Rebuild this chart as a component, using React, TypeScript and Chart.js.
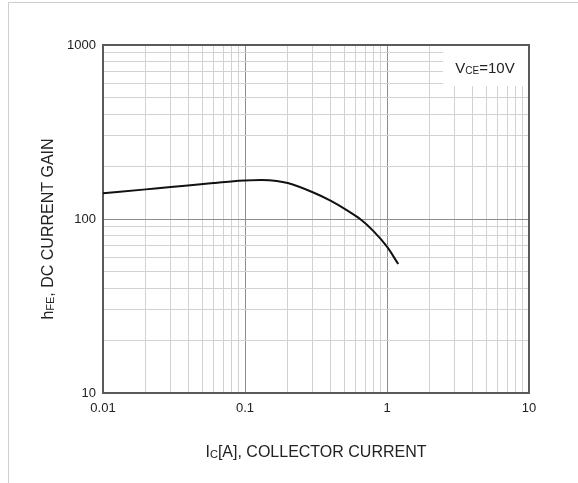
import React, { useEffect, useRef } from 'react';
import { Chart, registerables } from 'chart.js';

Chart.register(...registerables);

// ---- data ----
const currentA = [0.01, 0.02, 0.03, 0.043, 0.06, 0.08, 0.1, 0.13, 0.167, 0.2, 0.3, 0.4, 0.52, 0.65, 0.8, 1.0, 1.2];
const gainHFE = [140.5, 148, 152.5, 157, 161, 164.3, 166.2, 167.3, 165.5, 161, 142.5, 127.5, 112.5, 99.6, 85.5, 69.3, 55.1];
const xDecades = [0.01, 0.1, 1, 10];
const xTickLabels = ['0.01', '0.1', '1', '10'];
const yDecades = [10, 100, 1000];
const yTickLabels = ['10', '100', '1000'];
const minorMultipliers = [1, 2, 3, 4, 5, 6, 7, 8, 9];

const FONT = '"Liberation Sans", Arial, Helvetica, sans-serif';
const TEXT = '#222222';

function gridValues(decades: number[]): number[] {
  const out: number[] = [];
  for (let i = 0; i < decades.length - 1; i++) {
    for (const m of minorMultipliers) out.push(parseFloat((decades[i] * m).toPrecision(6)));
  }
  out.push(decades[decades.length - 1]);
  return out;
}

function labelFor(v: number, decades: number[], labels: string[]): string {
  for (let i = 0; i < decades.length; i++) {
    if (Math.abs(v - decades[i]) / decades[i] < 1e-6) return labels[i];
  }
  return '';
}

function isDecade(v: number): boolean {
  const l = Math.log10(v);
  return Math.abs(l - Math.round(l)) < 1e-6;
}

type Part = { text: string; sub?: boolean };

function drawRich(ctx: CanvasRenderingContext2D, parts: Part[], cx: number, cy: number, size: number) {
  const subSize = Math.round(size * 0.66);
  let total = 0;
  const widths = parts.map((p) => {
    ctx.font = `${p.sub ? subSize : size}px ${FONT}`;
    const w = ctx.measureText(p.text).width;
    total += w;
    return w;
  });
  let x = cx - total / 2;
  const base = cy + size * 0.36;
  ctx.textAlign = 'left';
  ctx.textBaseline = 'alphabetic';
  ctx.fillStyle = TEXT;
  parts.forEach((p, i) => {
    ctx.font = `${p.sub ? subSize : size}px ${FONT}`;
    ctx.fillText(p.text, x, p.sub ? base + size * 0.1 : base);
    x += widths[i];
  });
}

const xTitle: Part[] = [
  { text: 'I' }, { text: 'C', sub: true }, { text: '[A], COLLECTOR CURRENT' },
];
const yTitle: Part[] = [
  { text: 'h' }, { text: 'FE', sub: true }, { text: ', DC CURRENT GAIN' },
];
const condition: Part[] = [
  { text: 'V' }, { text: 'CE', sub: true }, { text: '=10V' },
];

const annotate = {
  id: 'annotate',
  beforeDatasetsDraw(chart: any) {
    const { ctx, chartArea: a } = chart;
    ctx.save();
    ctx.fillStyle = '#ffffff';
    ctx.fillRect(a.right - 86, a.top, 86, 41);
    ctx.strokeStyle = '#5a5a5a';
    ctx.lineWidth = 2;
    ctx.strokeRect(a.left, a.top, a.right - a.left, a.bottom - a.top);
    ctx.restore();
  },
  afterDraw(chart: any) {
    const { ctx, chartArea: a } = chart;
    ctx.save();
    drawRich(ctx, condition, a.right - 44, a.top + 22.5, 15);
    drawRich(ctx, xTitle, (a.left + a.right) / 2, a.bottom + 58, 16);
    ctx.translate(38, (a.top + a.bottom) / 2 + 10);
    ctx.rotate(-Math.PI / 2);
    drawRich(ctx, yTitle, 0, 0, 16);
    ctx.restore();
  },
};

export default function App() {
  const ref = useRef<HTMLCanvasElement | null>(null);

  useEffect(() => {
    if (!ref.current) return;
    const xGrid = gridValues(xDecades);
    const yGrid = gridValues(yDecades);
    const gridColor = (c: any) => (c.tick && isDecade(c.tick.value) ? '#8c8c8c' : '#d2d2d2');

    const chart = new Chart(ref.current, {
      type: 'scatter',
      data: {
        datasets: [
          {
            data: currentA.map((x, i) => ({ x, y: gainHFE[i] })),
            showLine: true,
            borderColor: '#111111',
            borderWidth: 2,
            pointRadius: 0,
            tension: 0.4,
            cubicInterpolationMode: 'monotone',
            fill: false,
          },
        ],
      },
      options: {
        animation: false,
        responsive: false,
        layout: { padding: { left: 0, top: 42, right: 49, bottom: 0 } },
        plugins: { legend: { display: false }, tooltip: { enabled: false } },
        scales: {
          x: {
            type: 'logarithmic',
            min: xDecades[0],
            max: xDecades[xDecades.length - 1],
            afterBuildTicks: (s: any) => {
              s.ticks = xGrid.map((v) => ({ value: v }));
            },
            afterFit: (s: any) => {
              s.height = 90;
            },
            ticks: {
              autoSkip: false,
              maxRotation: 0,
              padding: 8,
              color: TEXT,
              font: { family: FONT, size: 13 },
              callback: (v: any) => labelFor(Number(v), xDecades, xTickLabels),
            },
            grid: { color: gridColor, lineWidth: 1, drawTicks: false },
            border: { display: false },
          },
          y: {
            type: 'logarithmic',
            min: yDecades[0],
            max: yDecades[yDecades.length - 1],
            afterBuildTicks: (s: any) => {
              s.ticks = yGrid.map((v) => ({ value: v }));
            },
            afterFit: (s: any) => {
              s.width = 94;
            },
            ticks: {
              autoSkip: false,
              padding: 7,
              color: TEXT,
              font: { family: FONT, size: 13 },
              callback: (v: any) => labelFor(Number(v), yDecades, yTickLabels),
            },
            grid: { color: gridColor, lineWidth: 1, drawTicks: false },
            border: { display: false },
          },
        },
      } as any,
      plugins: [annotate],
    });
    return () => chart.destroy();
  }, []);

  return (
    <div
      style={{
        position: 'absolute',
        left: 8,
        top: 2,
        width: 570,
        height: 481,
        boxSizing: 'border-box',
        borderTop: '1px solid #cfcfcf',
        borderLeft: '1px solid #cfcfcf',
        overflow: 'hidden',
        background: '#ffffff',
      }}
    >
      <canvas ref={ref} width={569} height={480} style={{ display: 'block' }} />
    </div>
  );
}
